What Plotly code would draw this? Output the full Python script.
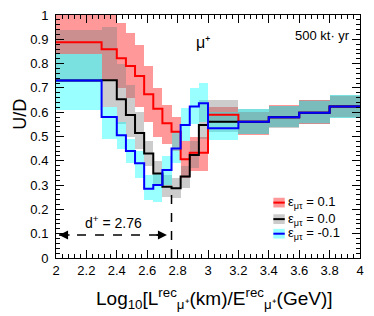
import plotly.graph_objects as go

# ---------------- data ----------------
bin_edges = [2.0, 2.3, 2.4, 2.46, 2.52, 2.58, 2.64, 2.70, 2.76, 2.82, 2.88, 2.94,
             3.0, 3.2, 3.4, 3.6, 3.8, 4.0]

red_val = [0.888, 0.859, 0.822, 0.79, 0.749, 0.674, 0.614, 0.555, 0.52, 0.406, 0.433,
           0.433, 0.59, 0.561, 0.579, 0.598, 0.623]
red_lo = [0.84, 0.73, 0.70, 0.66, 0.62, 0.56, 0.50, 0.47, 0.44, 0.33, 0.36, 0.36,
          0.555, 0.505, 0.54, 0.55, 0.58]
red_hi = [1.0, 1.0, 0.966, 0.925, 0.877, 0.79, 0.70, 0.63, 0.58, 0.48, 0.50, 0.50,
          0.62, 0.60, 0.63, 0.65, 0.665]

black_val = [0.73, 0.731, 0.653, 0.588, 0.514, 0.43, 0.348, 0.293, 0.287, 0.335,
             0.424, 0.547, 0.561, 0.561, 0.579, 0.598, 0.623]
black_lo = [0.73, 0.62, 0.55, 0.50, 0.45, 0.38, 0.30, 0.25, 0.245, 0.29, 0.37, 0.49,
            0.52, 0.51, 0.535, 0.55, 0.575]
black_hi = [0.94, 0.95, 0.80, 0.71, 0.60, 0.48, 0.40, 0.34, 0.33, 0.38, 0.48, 0.65,
            0.65, 0.615, 0.625, 0.65, 0.67]

blue_val = [0.73, 0.58, 0.505, 0.44, 0.39, 0.285, 0.30, 0.362, 0.451, 0.547, 0.623,
            0.637, 0.534, 0.561, 0.579, 0.598, 0.623]
blue_lo = [0.61, 0.49, 0.45, 0.39, 0.33, 0.24, 0.23, 0.30, 0.39, 0.48, 0.55, 0.56,
           0.486, 0.51, 0.54, 0.555, 0.575]
blue_hi = [0.84, 0.62, 0.56, 0.49, 0.44, 0.34, 0.35, 0.42, 0.52, 0.617, 0.70, 0.72,
           0.60, 0.615, 0.625, 0.645, 0.67]

legend_labels = ["ε<sub>μτ</sub> = 0.1", "ε<sub>μτ</sub> = 0.0", "ε<sub>μτ</sub> = -0.1"]
d_plus = 2.76
d_arrow_y = 0.095
exposure_text = "500 kt· yr"

# ---------------- style ----------------
FONT = "Liberation Sans, Arial, Helvetica, sans-serif"
series = [
    (red_val, red_lo, red_hi, "rgba(255,0,0,0.40)", "#ff0000"),
    (black_val, black_lo, black_hi, "rgba(128,128,128,0.40)", "#000000"),
    (blue_val, blue_lo, blue_hi, "rgba(0,255,255,0.40)", "#0000ff"),
]

centers = [(a + b) / 2 for a, b in zip(bin_edges[:-1], bin_edges[1:])]
widths = [b - a for a, b in zip(bin_edges[:-1], bin_edges[1:])]

fig = go.Figure()
for val, lo, hi, fcol, lcol in series:
    fig.add_trace(go.Bar(
        x=centers, y=[h - l for l, h in zip(lo, hi)], base=lo, width=widths,
        marker=dict(color=fcol, line=dict(width=0)), showlegend=False,
        hoverinfo="skip"))
for val, lo, hi, fcol, lcol in series:
    fig.add_trace(go.Scatter(
        x=bin_edges, y=val + [val[-1]], mode="lines", line_shape="hv",
        line=dict(color=lcol, width=2), showlegend=False, hoverinfo="skip"))

fig.update_layout(
    width=374, height=316, barmode="overlay", bargap=0,
    margin=dict(l=56, r=14, t=15, b=58, autoexpand=False),
    paper_bgcolor="white", plot_bgcolor="white",
    font=dict(family=FONT, size=13, color="black"),
)
fig.update_xaxes(range=[2, 4], dtick=0.2, tick0=2, ticks="inside", ticklen=8,
                 tickcolor="black", showline=True, linecolor="black", linewidth=1,
                 mirror="allticks", showgrid=False, zeroline=False, automargin=False,
                 minor=dict(ticks="inside", dtick=0.04, ticklen=4, tickcolor="black"),
                 tickfont=dict(size=13))
fig.update_yaxes(range=[0, 1], dtick=0.1, tick0=0, ticks="inside", ticklen=8,
                 tickcolor="black", showline=True, linecolor="black", linewidth=1,
                 mirror="allticks", showgrid=False, zeroline=False, automargin=False,
                 minor=dict(ticks="inside", dtick=0.02, ticklen=4, tickcolor="black"),
                 tickfont=dict(size=13), ticklabelstandoff=4)

# axis titles
fig.add_annotation(xref="paper", yref="paper", x=0.52, y=-0.165,
                   text="Log<sub>10</sub>[L<sup>rec</sup><sub>μ⁺</sub>(km)/E<sup>rec</sup><sub>μ⁺</sub>(GeV)]",
                   showarrow=False, font=dict(size=19), xanchor="center", yanchor="middle")
fig.add_annotation(xref="paper", yref="paper", x=-0.118, y=0.59, text="U/D",
                   textangle=-90, showarrow=False, font=dict(size=18),
                   xanchor="center", yanchor="middle")

# labels
fig.add_annotation(x=2.965, y=0.885, text="μ⁺", showarrow=False, font=dict(size=16))
fig.add_annotation(x=3.75, y=0.915, text=exposure_text, showarrow=False, font=dict(size=13))

# d+ marker
fig.add_shape(type="line", x0=2.02, x1=d_plus - 0.03, y0=d_arrow_y, y1=d_arrow_y,
              line=dict(color="black", width=1.5, dash="dash"))
fig.add_shape(type="line", x0=d_plus, x1=d_plus, y0=0, y1=min(black_val),
              line=dict(color="black", width=1.5, dash="dash"))
fig.add_annotation(x=2.02, y=d_arrow_y, ax=12, ay=0, text="", showarrow=True,
                   arrowhead=2, arrowsize=1.2, arrowwidth=1.5, arrowcolor="black")
fig.add_annotation(x=d_plus - 0.03, y=d_arrow_y, ax=-12, ay=0, text="", showarrow=True,
                   arrowhead=2, arrowsize=1.2, arrowwidth=1.5, arrowcolor="black")
fig.add_annotation(x=2.38, y=0.148, text=f"d<sup>+</sup> = {d_plus:.2f}",
                   showarrow=False, font=dict(size=14))

# legend
leg_y = [0.228, 0.16, 0.10]
for (val, lo, hi, fcol, lcol), yy, lab in zip(series, leg_y, legend_labels):
    fig.add_shape(type="rect", x0=3.43, x1=3.505, y0=yy - 0.02, y1=yy + 0.02,
                  fillcolor=fcol, line=dict(width=0))
    fig.add_shape(type="line", x0=3.43, x1=3.505, y0=yy, y1=yy,
                  line=dict(color=lcol, width=2))
    fig.add_annotation(x=3.515, y=yy, text=lab, showarrow=False, xanchor="left",
                       yanchor="middle", font=dict(size=13))

fig.write_html("out.html", config={"displayModeBar": False, "staticPlot": True},
               post_script="document.body.style.margin='0';document.body.style.overflow='hidden';")
